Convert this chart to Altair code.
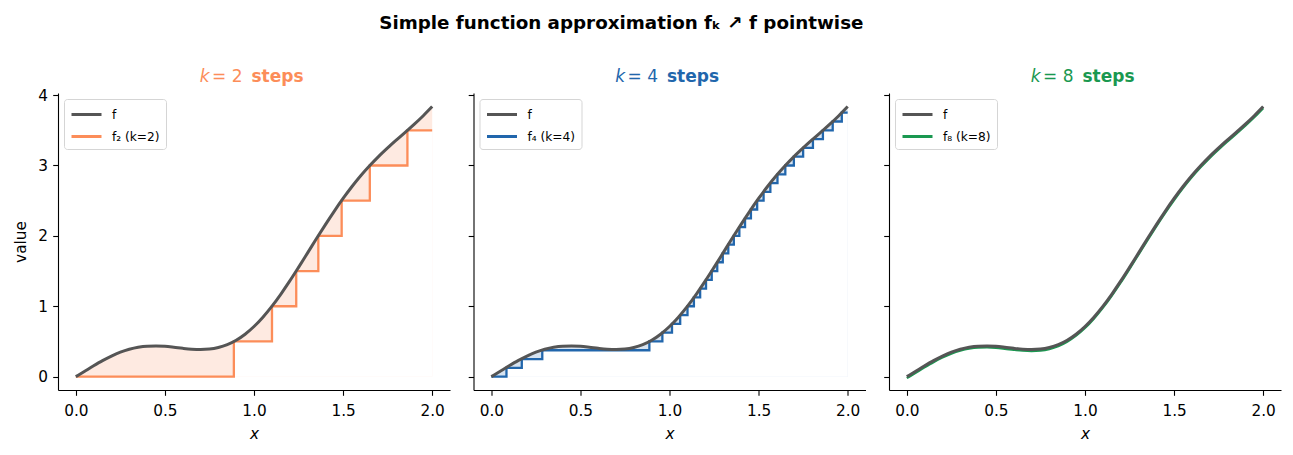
import altair as alt
import pandas as pd

# ---- data ----
X = [0.00, 0.05, 0.10, 0.15, 0.20, 0.25, 0.30, 0.35, 0.40, 0.45,
     0.50, 0.55, 0.60, 0.65, 0.70, 0.75, 0.80, 0.85, 0.90, 0.95,
     1.00, 1.05, 1.10, 1.15, 1.20, 1.25, 1.30, 1.35, 1.40, 1.45,
     1.50, 1.55, 1.60, 1.65, 1.70, 1.75, 1.80, 1.85, 1.90, 1.95, 2.00]
F = [0.000, 0.077, 0.154, 0.227, 0.292, 0.347, 0.389, 0.418, 0.433, 0.436,
     0.430, 0.417, 0.402, 0.390, 0.385, 0.391, 0.413, 0.454, 0.517, 0.603,
     0.712, 0.845, 0.998, 1.170, 1.356, 1.553, 1.755, 1.958, 2.157, 2.349,
     2.531, 2.701, 2.857, 2.999, 3.130, 3.250, 3.364, 3.475, 3.587, 3.707, 3.837]

K2_X = [0.0, 0.887, 1.101, 1.237, 1.361, 1.492, 1.650, 1.861, 2.0]
K2_LEVEL = [0.0, 0.5, 1.0, 1.5, 2.0, 2.5, 3.0, 3.5, 3.5]

K4_X = [0.0, 0.085, 0.171, 0.286, 0.887, 0.960, 1.014, 1.060, 1.101, 1.137,
        1.172, 1.205, 1.237, 1.268, 1.299, 1.330, 1.361, 1.392, 1.424, 1.457,
        1.492, 1.528, 1.566, 1.606, 1.650, 1.698, 1.750, 1.805, 1.861, 1.916,
        1.967, 2.0]
K4_LEVEL = [0.0, 0.125, 0.25, 0.375, 0.5, 0.625, 0.75, 0.875, 1.0, 1.125,
            1.25, 1.375, 1.5, 1.625, 1.75, 1.875, 2.0, 2.125, 2.25, 2.375,
            2.5, 2.625, 2.75, 2.875, 3.0, 3.125, 3.25, 3.375, 3.5, 3.625,
            3.75, 3.75]

PANELS = [
    {"k": "2", "label": "f\u2082 (k=2)", "color": "#fc8d59", "sx": K2_X, "sy": K2_LEVEL},
    {"k": "4", "label": "f\u2084 (k=4)", "color": "#2166ac", "sx": K4_X, "sy": K4_LEVEL},
    {"k": "8", "label": "f\u2088 (k=8)", "color": "#1a9850", "sx": None, "sy": None},
]
GRAY = "#555555"
W, H = 392, 297
FONT = "DejaVu Sans"

xscale = alt.Scale(domain=[-0.1, 2.1], nice=False, zero=False)
yscale = alt.Scale(domain=[-0.19, 4.03], nice=False, zero=False)


def panel(p, first):
    df_f = pd.DataFrame({"x": X, "value": F, "series": "f"})
    color = alt.Color(
        "series:N",
        scale=alt.Scale(domain=["f", p["label"]], range=[GRAY, p["color"]]),
        legend=alt.Legend(title=None, orient="top-left", offset=6,
                          labelFont=FONT, labelFontSize=12.2, labelColor="black",
                          symbolType="M-1,0H2.75", symbolSize=256, symbolStrokeWidth=3,
                          strokeColor="#d5d5d5", fillColor="white", cornerRadius=3,
                          padding=6, rowPadding=6, labelOffset=23),
    )
    xenc = alt.X("x:Q", scale=xscale,
                 axis=alt.Axis(title="x", titleFontStyle="italic",
                               values=[0, 0.5, 1.0, 1.5, 2.0], format=".1f"))
    if first:
        yax = alt.Axis(title="value", values=[0, 1, 2, 3, 4], format="d")
    else:
        yax = alt.Axis(title=None, values=[0, 1, 2, 3, 4], labels=False)
    yenc = alt.Y("value:Q", scale=yscale, axis=yax)

    layers = []
    if p["sx"] is not None:
        df_s = pd.DataFrame({"x": p["sx"], "value": p["sy"], "series": p["label"]})
        fill = alt.Chart(df_f).mark_area(interpolate="monotone", color=p["color"],
                                         opacity=0.18).encode(
            x=xenc, y=yenc, y2=alt.datum(0))
        white = alt.Chart(df_s).mark_area(interpolate="step-after", color="white",
                                          opacity=1).encode(
            x=xenc, y=yenc, y2=alt.datum(0))
        step = alt.Chart(df_s).mark_line(interpolate="step-after", strokeWidth=2.3).encode(
            x=xenc, y=yenc, color=color)
        layers += [fill, white, step]
    else:
        df_g = pd.DataFrame({"x": X, "value": F, "series": p["label"]})
        step = alt.Chart(df_g).mark_line(interpolate="monotone", strokeWidth=2.3,
                                         yOffset=1.5).encode(
            x=xenc, y=yenc, color=color)
        layers += [step]
    fline = alt.Chart(df_f).mark_line(interpolate="monotone", strokeWidth=3).encode(
        x=xenc, y=yenc, color=color)
    layers.append(fline)

    # panel title pieces: "k" italic, "= n" regular, "steps" bold
    t1 = alt.Chart(pd.DataFrame({"t": ["k"]})).mark_text(
        align="right", baseline="middle", font=FONT, fontSize=17, fontStyle="italic",
        color=p["color"]).encode(x=alt.value(151.5), y=alt.value(-16), text="t:N")
    t2 = alt.Chart(pd.DataFrame({"t": ["= " + p["k"]]})).mark_text(
        align="right", baseline="middle", font=FONT, fontSize=17,
        color=p["color"]).encode(x=alt.value(184.5), y=alt.value(-16), text="t:N")
    t3 = alt.Chart(pd.DataFrame({"t": ["steps"]})).mark_text(
        align="left", baseline="middle", font=FONT, fontSize=17, fontWeight="bold",
        color=p["color"]).encode(x=alt.value(193.5), y=alt.value(-16), text="t:N")
    layers += [t1, t2, t3]
    return alt.layer(*layers).properties(width=W, height=H)


chart = alt.hconcat(*[panel(p, i == 0) for i, p in enumerate(PANELS)], spacing=17.5).resolve_scale(
    color="independent"
).properties(
    title=alt.TitleParams(
        text="Simple function approximation f\u2096 \u2197 f pointwise",
        font=FONT, fontSize=18.3, fontWeight="bold", color="black",
        anchor="middle", dx=-26, offset=35),
    padding={"left": 13, "top": 13, "right": 10, "bottom": 8},
).configure_view(stroke=None).configure_axis(
    grid=False, domainColor="black", tickColor="black", domainWidth=1.1, tickWidth=1.1,
    tickSize=5.3, labelFont=FONT, labelFontSize=15.3, labelColor="black",
    titleFont=FONT, titleFontSize=15.3, titleFontWeight="normal", titleColor="black",
).configure_axisY(titlePadding=9, labelPadding=5.3).configure_axisX(titlePadding=8, labelPadding=8)

chart.save("out.html", embed_options={"renderer": "svg", "actions": False})
